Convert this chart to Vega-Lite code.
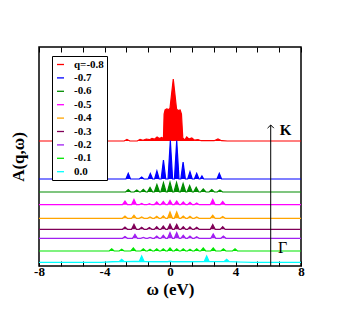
{
"$schema": "https://vega.github.io/schema/vega-lite/v6.json",
"width": 262, "height": 219,
"autosize": {"type": "none"},
"padding": {"left": 39, "top": 47, "right": 37, "bottom": 48},
"background": "white",
"config": {"view": {"stroke": "black", "strokeWidth": 1.5}, "font": "Liberation Serif"},
"datasets": {
"offsets": [{"q":"-0.8","b":125},{"q":"-0.7","b":87},{"q":"-0.6","b":74},{"q":"-0.5","b":61.3},{"q":"-0.4","b":47.7},{"q":"-0.3","b":36.7},{"q":"-0.2","b":27.7},{"q":"-0.1","b":15},{"q":"0.0","b":3.7}],
"arrow": [{"w":6.15,"v":141,"b":0}],
"spec": [
{"q":"0.0","w":-8,"v":3.7},{"q":"0.0","w":-4.2,"v":3.7},{"q":"0.0","w":-3.5,"v":4.3},{"q":"0.0","w":-3.1,"v":4.5},{"q":"0.0","w":-2.95,"v":6.7},{"q":"0.0","w":-2.8,"v":4.5},{"q":"0.0","w":-2.2,"v":4.6},{"q":"0.0","w":-1.88,"v":4.6},{"q":"0.0","w":-1.73,"v":10},{"q":"0.0","w":-1.58,"v":4.6},{"q":"0.0","w":-1.0,"v":4.4},{"q":"0.0","w":-0.15,"v":4.3},{"q":"0.0","w":0.0,"v":5},{"q":"0.0","w":0.15,"v":4.3},{"q":"0.0","w":1.0,"v":4.4},{"q":"0.0","w":2.09,"v":4.6},{"q":"0.0","w":2.24,"v":10},{"q":"0.0","w":2.39,"v":4.6},{"q":"0.0","w":3.0,"v":4.5},{"q":"0.0","w":3.31,"v":4.5},{"q":"0.0","w":3.46,"v":6.7},{"q":"0.0","w":3.61,"v":4.5},{"q":"0.0","w":4.3,"v":4.0},{"q":"0.0","w":5.0,"v":3.7},{"q":"0.0","w":8,"v":3.7},
{"q":"-0.1","w":-8,"v":15},{"q":"-0.1","w":-3.71,"v":15},{"q":"-0.1","w":-3.56,"v":17.3},{"q":"-0.1","w":-3.41,"v":15},{"q":"-0.1","w":-3.1,"v":15},{"q":"-0.1","w":-2.95,"v":16.7},{"q":"-0.1","w":-2.8,"v":15},{"q":"-0.1","w":-2.39,"v":15},{"q":"-0.1","w":-2.24,"v":18},{"q":"-0.1","w":-2.09,"v":15},{"q":"-0.1","w":-1.78,"v":15},{"q":"-0.1","w":-1.63,"v":17.3},{"q":"-0.1","w":-1.48,"v":15},{"q":"-0.1","w":-1.37,"v":15},{"q":"-0.1","w":-1.22,"v":16.7},{"q":"-0.1","w":-1.07,"v":15},{"q":"-0.1","w":-0.96,"v":15},{"q":"-0.1","w":-0.81,"v":17.3},{"q":"-0.1","w":-0.66,"v":15},{"q":"-0.1","w":-0.56,"v":15},{"q":"-0.1","w":-0.41,"v":17.3},{"q":"-0.1","w":-0.26,"v":15},{"q":"-0.1","w":-0.15,"v":15},{"q":"-0.1","w":0.0,"v":18},{"q":"-0.1","w":0.15,"v":15},{"q":"-0.1","w":0.26,"v":15},{"q":"-0.1","w":0.41,"v":17.3},{"q":"-0.1","w":0.56,"v":15},{"q":"-0.1","w":0.66,"v":15},{"q":"-0.1","w":0.81,"v":17.3},{"q":"-0.1","w":0.96,"v":15},{"q":"-0.1","w":1.07,"v":15},{"q":"-0.1","w":1.22,"v":16.7},{"q":"-0.1","w":1.37,"v":15},{"q":"-0.1","w":1.48,"v":15},{"q":"-0.1","w":1.63,"v":17.3},{"q":"-0.1","w":1.78,"v":15},{"q":"-0.1","w":1.88,"v":15},{"q":"-0.1","w":2.03,"v":18},{"q":"-0.1","w":2.18,"v":15},{"q":"-0.1","w":2.49,"v":15},{"q":"-0.1","w":2.64,"v":18},{"q":"-0.1","w":2.79,"v":15},{"q":"-0.1","w":3.11,"v":15},{"q":"-0.1","w":3.26,"v":17.3},{"q":"-0.1","w":3.41,"v":15},{"q":"-0.1","w":3.82,"v":15},{"q":"-0.1","w":3.97,"v":17.3},{"q":"-0.1","w":4.12,"v":15},{"q":"-0.1","w":8,"v":15},
{"q":"-0.2","w":-8,"v":27.7},{"q":"-0.2","w":-2.9,"v":27.7},{"q":"-0.2","w":-2.75,"v":29.4},{"q":"-0.2","w":-2.6,"v":27.7},{"q":"-0.2","w":-2.29,"v":27.7},{"q":"-0.2","w":-2.14,"v":31.7},{"q":"-0.2","w":-1.99,"v":27.7},{"q":"-0.2","w":-1.78,"v":27.7},{"q":"-0.2","w":-1.63,"v":28.7},{"q":"-0.2","w":-1.48,"v":27.7},{"q":"-0.2","w":-1.37,"v":27.7},{"q":"-0.2","w":-1.22,"v":28.7},{"q":"-0.2","w":-1.07,"v":27.7},{"q":"-0.2","w":-0.96,"v":27.7},{"q":"-0.2","w":-0.81,"v":30},{"q":"-0.2","w":-0.66,"v":27.7},{"q":"-0.2","w":-0.56,"v":27.7},{"q":"-0.2","w":-0.41,"v":30.7},{"q":"-0.2","w":-0.26,"v":27.7},{"q":"-0.2","w":-0.15,"v":27.7},{"q":"-0.2","w":0.0,"v":33.4},{"q":"-0.2","w":0.15,"v":27.7},{"q":"-0.2","w":0.26,"v":27.7},{"q":"-0.2","w":0.41,"v":33.4},{"q":"-0.2","w":0.56,"v":27.7},{"q":"-0.2","w":0.66,"v":27.7},{"q":"-0.2","w":0.81,"v":30.7},{"q":"-0.2","w":0.96,"v":27.7},{"q":"-0.2","w":1.07,"v":27.7},{"q":"-0.2","w":1.22,"v":30},{"q":"-0.2","w":1.37,"v":27.7},{"q":"-0.2","w":1.48,"v":27.7},{"q":"-0.2","w":1.63,"v":29.2},{"q":"-0.2","w":1.78,"v":27.7},{"q":"-0.2","w":2.49,"v":27.7},{"q":"-0.2","w":2.64,"v":32},{"q":"-0.2","w":2.79,"v":27.7},{"q":"-0.2","w":3.11,"v":27.7},{"q":"-0.2","w":3.26,"v":30},{"q":"-0.2","w":3.41,"v":27.7},{"q":"-0.2","w":8,"v":27.7},
{"q":"-0.3","w":-8,"v":36.7},{"q":"-0.3","w":-2.9,"v":36.7},{"q":"-0.3","w":-2.75,"v":39},{"q":"-0.3","w":-2.6,"v":36.7},{"q":"-0.3","w":-2.35,"v":36.7},{"q":"-0.3","w":-2.2,"v":41.7},{"q":"-0.3","w":-2.05,"v":36.7},{"q":"-0.3","w":-1.88,"v":36.7},{"q":"-0.3","w":-1.73,"v":38.7},{"q":"-0.3","w":-1.58,"v":36.7},{"q":"-0.3","w":-1.41,"v":36.7},{"q":"-0.3","w":-1.26,"v":38.4},{"q":"-0.3","w":-1.11,"v":36.7},{"q":"-0.3","w":-0.96,"v":36.7},{"q":"-0.3","w":-0.81,"v":39.4},{"q":"-0.3","w":-0.66,"v":36.7},{"q":"-0.3","w":-0.56,"v":36.7},{"q":"-0.3","w":-0.41,"v":39.9},{"q":"-0.3","w":-0.26,"v":36.7},{"q":"-0.3","w":-0.15,"v":36.7},{"q":"-0.3","w":0.0,"v":41.9},{"q":"-0.3","w":0.15,"v":36.7},{"q":"-0.3","w":0.26,"v":36.7},{"q":"-0.3","w":0.41,"v":41.7},{"q":"-0.3","w":0.56,"v":36.7},{"q":"-0.3","w":0.66,"v":36.7},{"q":"-0.3","w":0.81,"v":39.4},{"q":"-0.3","w":0.96,"v":36.7},{"q":"-0.3","w":1.07,"v":36.7},{"q":"-0.3","w":1.22,"v":39.2},{"q":"-0.3","w":1.37,"v":36.7},{"q":"-0.3","w":1.48,"v":36.7},{"q":"-0.3","w":1.63,"v":38.7},{"q":"-0.3","w":1.78,"v":36.7},{"q":"-0.3","w":2.46,"v":36.7},{"q":"-0.3","w":2.61,"v":41.4},{"q":"-0.3","w":2.76,"v":36.7},{"q":"-0.3","w":3.07,"v":36.7},{"q":"-0.3","w":3.22,"v":39.4},{"q":"-0.3","w":3.37,"v":36.7},{"q":"-0.3","w":8,"v":36.7},
{"q":"-0.4","w":-8,"v":47.7},{"q":"-0.4","w":-2.9,"v":47.7},{"q":"-0.4","w":-2.75,"v":50},{"q":"-0.4","w":-2.6,"v":47.7},{"q":"-0.4","w":-2.35,"v":47.7},{"q":"-0.4","w":-2.2,"v":50.7},{"q":"-0.4","w":-2.05,"v":47.7},{"q":"-0.4","w":-1.88,"v":47.7},{"q":"-0.4","w":-1.73,"v":49},{"q":"-0.4","w":-1.58,"v":47.7},{"q":"-0.4","w":-1.37,"v":47.7},{"q":"-0.4","w":-1.22,"v":49},{"q":"-0.4","w":-1.07,"v":47.7},{"q":"-0.4","w":-0.96,"v":47.7},{"q":"-0.4","w":-0.81,"v":49.7},{"q":"-0.4","w":-0.66,"v":47.7},{"q":"-0.4","w":-0.56,"v":47.7},{"q":"-0.4","w":-0.41,"v":50.2},{"q":"-0.4","w":-0.26,"v":47.7},{"q":"-0.4","w":-0.15,"v":47.7},{"q":"-0.4","w":0.0,"v":54},{"q":"-0.4","w":0.15,"v":47.7},{"q":"-0.4","w":0.26,"v":47.7},{"q":"-0.4","w":0.41,"v":54},{"q":"-0.4","w":0.56,"v":47.7},{"q":"-0.4","w":0.66,"v":47.7},{"q":"-0.4","w":0.81,"v":50},{"q":"-0.4","w":0.96,"v":47.7},{"q":"-0.4","w":1.07,"v":47.7},{"q":"-0.4","w":1.22,"v":49.7},{"q":"-0.4","w":1.37,"v":47.7},{"q":"-0.4","w":1.48,"v":47.7},{"q":"-0.4","w":1.63,"v":49},{"q":"-0.4","w":1.78,"v":47.7},{"q":"-0.4","w":2.46,"v":47.7},{"q":"-0.4","w":2.61,"v":50.7},{"q":"-0.4","w":2.76,"v":47.7},{"q":"-0.4","w":3.07,"v":47.7},{"q":"-0.4","w":3.22,"v":49.4},{"q":"-0.4","w":3.37,"v":47.7},{"q":"-0.4","w":8,"v":47.7},
{"q":"-0.5","w":-8,"v":61.3},{"q":"-0.5","w":-2.9,"v":61.3},{"q":"-0.5","w":-2.75,"v":65},{"q":"-0.5","w":-2.6,"v":61.3},{"q":"-0.5","w":-2.35,"v":61.3},{"q":"-0.5","w":-2.2,"v":66.6},{"q":"-0.5","w":-2.05,"v":61.3},{"q":"-0.5","w":-1.88,"v":61.3},{"q":"-0.5","w":-1.73,"v":62.6},{"q":"-0.5","w":-1.58,"v":61.3},{"q":"-0.5","w":-1.41,"v":61.3},{"q":"-0.5","w":-1.26,"v":62.3},{"q":"-0.5","w":-1.11,"v":61.3},{"q":"-0.5","w":-0.96,"v":61.3},{"q":"-0.5","w":-0.81,"v":64},{"q":"-0.5","w":-0.66,"v":61.3},{"q":"-0.5","w":-0.56,"v":61.3},{"q":"-0.5","w":-0.41,"v":64.6},{"q":"-0.5","w":-0.26,"v":61.3},{"q":"-0.5","w":-0.15,"v":61.3},{"q":"-0.5","w":0.0,"v":65.6},{"q":"-0.5","w":0.15,"v":61.3},{"q":"-0.5","w":0.26,"v":61.3},{"q":"-0.5","w":0.41,"v":65},{"q":"-0.5","w":0.56,"v":61.3},{"q":"-0.5","w":0.66,"v":61.3},{"q":"-0.5","w":0.81,"v":64},{"q":"-0.5","w":0.96,"v":61.3},{"q":"-0.5","w":1.07,"v":61.3},{"q":"-0.5","w":1.22,"v":63.6},{"q":"-0.5","w":1.37,"v":61.3},{"q":"-0.5","w":1.48,"v":61.3},{"q":"-0.5","w":1.63,"v":63},{"q":"-0.5","w":1.78,"v":61.3},{"q":"-0.5","w":2.46,"v":61.3},{"q":"-0.5","w":2.61,"v":66.6},{"q":"-0.5","w":2.76,"v":61.3},{"q":"-0.5","w":3.07,"v":61.3},{"q":"-0.5","w":3.22,"v":64.6},{"q":"-0.5","w":3.37,"v":61.3},{"q":"-0.5","w":8,"v":61.3},
{"q":"-0.6","w":-8,"v":74},{"q":"-0.6","w":-2.71,"v":74},{"q":"-0.6","w":-2.55,"v":76.5},{"q":"-0.6","w":-2.39,"v":74},{"q":"-0.6","w":-2.19,"v":74},{"q":"-0.6","w":-2.03,"v":76},{"q":"-0.6","w":-1.87,"v":74},{"q":"-0.6","w":-1.79,"v":74},{"q":"-0.6","w":-1.63,"v":76.7},{"q":"-0.6","w":-1.47,"v":74},{"q":"-0.6","w":-1.38,"v":74},{"q":"-0.6","w":-1.22,"v":78.5},{"q":"-0.6","w":-1.06,"v":74},{"q":"-0.6","w":-0.96,"v":74},{"q":"-0.6","w":-0.8,"v":81.5},{"q":"-0.6","w":-0.64,"v":74},{"q":"-0.6","w":-0.56,"v":74},{"q":"-0.6","w":-0.4,"v":83.3},{"q":"-0.6","w":-0.24,"v":74},{"q":"-0.6","w":-0.16,"v":74},{"q":"-0.6","w":0.0,"v":83.8},{"q":"-0.6","w":0.16,"v":74},{"q":"-0.6","w":0.24,"v":74},{"q":"-0.6","w":0.4,"v":83.5},{"q":"-0.6","w":0.56,"v":74},{"q":"-0.6","w":0.64,"v":74},{"q":"-0.6","w":0.8,"v":82.5},{"q":"-0.6","w":0.96,"v":74},{"q":"-0.6","w":1.04,"v":74},{"q":"-0.6","w":1.2,"v":80.5},{"q":"-0.6","w":1.36,"v":74},{"q":"-0.6","w":1.44,"v":74},{"q":"-0.6","w":1.6,"v":78.7},{"q":"-0.6","w":1.76,"v":74},{"q":"-0.6","w":1.87,"v":74},{"q":"-0.6","w":2.03,"v":77},{"q":"-0.6","w":2.19,"v":74},{"q":"-0.6","w":2.39,"v":74},{"q":"-0.6","w":2.55,"v":76.5},{"q":"-0.6","w":2.71,"v":74},{"q":"-0.6","w":2.89,"v":74},{"q":"-0.6","w":3.05,"v":76},{"q":"-0.6","w":3.21,"v":74},{"q":"-0.6","w":8,"v":74},
{"q":"-0.7","w":-8,"v":87},{"q":"-0.7","w":-2.69,"v":87},{"q":"-0.7","w":-2.55,"v":92.7},{"q":"-0.7","w":-2.41,"v":87},{"q":"-0.7","w":-1.87,"v":87},{"q":"-0.7","w":-1.73,"v":89},{"q":"-0.7","w":-1.59,"v":87},{"q":"-0.7","w":-1.34,"v":87},{"q":"-0.7","w":-1.2,"v":92.5},{"q":"-0.7","w":-1.06,"v":87},{"q":"-0.7","w":-0.94,"v":87},{"q":"-0.7","w":-0.8,"v":95},{"q":"-0.7","w":-0.66,"v":87},{"q":"-0.7","w":-0.54,"v":87},{"q":"-0.7","w":-0.4,"v":106},{"q":"-0.7","w":-0.26,"v":87},{"q":"-0.7","w":-0.12,"v":87},{"q":"-0.7","w":0.02,"v":125.5},{"q":"-0.7","w":0.16,"v":87},{"q":"-0.7","w":0.27,"v":87},{"q":"-0.7","w":0.41,"v":125.5},{"q":"-0.7","w":0.55,"v":87},{"q":"-0.7","w":0.66,"v":87},{"q":"-0.7","w":0.8,"v":104},{"q":"-0.7","w":0.94,"v":87},{"q":"-0.7","w":1.08,"v":87},{"q":"-0.7","w":1.22,"v":94.3},{"q":"-0.7","w":1.36,"v":87},{"q":"-0.7","w":1.49,"v":87},{"q":"-0.7","w":1.63,"v":92.7},{"q":"-0.7","w":1.77,"v":87},{"q":"-0.7","w":1.84,"v":87},{"q":"-0.7","w":1.95,"v":90},{"q":"-0.7","w":2.06,"v":87},{"q":"-0.7","w":2.87,"v":87},{"q":"-0.7","w":3.01,"v":92.7},{"q":"-0.7","w":3.15,"v":87},{"q":"-0.7","w":8,"v":87},
{"q":"-0.8","w":-8,"v":125},{"q":"-0.8","w":-2.8,"v":125},{"q":"-0.8","w":-2.63,"v":126.5},{"q":"-0.8","w":-2.45,"v":125},{"q":"-0.8","w":-2.0,"v":125},{"q":"-0.8","w":-1.83,"v":126.5},{"q":"-0.8","w":-1.65,"v":125.7},{"q":"-0.8","w":-1.45,"v":127},{"q":"-0.8","w":-1.25,"v":126.3},{"q":"-0.8","w":-1.1,"v":127.5},{"q":"-0.8","w":-0.95,"v":126.8},{"q":"-0.8","w":-0.79,"v":129},{"q":"-0.8","w":-0.65,"v":127.5},{"q":"-0.8","w":-0.51,"v":128.5},{"q":"-0.8","w":-0.4,"v":127.5},{"q":"-0.8","w":-0.36,"v":152},{"q":"-0.8","w":-0.3,"v":156},{"q":"-0.8","w":-0.2,"v":157},{"q":"-0.8","w":-0.05,"v":156.5},{"q":"-0.8","w":0.0,"v":158},{"q":"-0.8","w":0.2,"v":187},{"q":"-0.8","w":0.4,"v":157},{"q":"-0.8","w":0.48,"v":155.5},{"q":"-0.8","w":0.62,"v":156},{"q":"-0.8","w":0.7,"v":152},{"q":"-0.8","w":0.78,"v":128},{"q":"-0.8","w":0.9,"v":126},{"q":"-0.8","w":1.02,"v":129},{"q":"-0.8","w":1.15,"v":127},{"q":"-0.8","w":1.33,"v":128},{"q":"-0.8","w":1.5,"v":125.8},{"q":"-0.8","w":1.71,"v":126.5},{"q":"-0.8","w":1.9,"v":125.3},{"q":"-0.8","w":2.7,"v":125.3},{"q":"-0.8","w":2.93,"v":127},{"q":"-0.8","w":3.15,"v":125.3},{"q":"-0.8","w":3.5,"v":125},{"q":"-0.8","w":8,"v":125}
]
},
"layer": [
{
"data": {"name": "spec"},
"transform": [{"lookup": "q", "from": {"data": {"name": "offsets"}, "key": "q", "fields": ["b"]}}],
"mark": {"type": "area", "interpolate": "linear", "opacity": 1},
"encoding": {
"x": {"field": "w", "type": "quantitative", "scale": {"domain": [-8, 8], "nice": false, "zero": false},
"axis": {"orient": "bottom", "values": [-8, -6.6667, -5.3333, -4, -2.6667, -1.3333, 0, 1.3333, 2.6667, 4, 5.3333, 6.6667, 8],
"labelExpr": "abs(datum.value % 4) < 0.01 ? toString(round(datum.value)) : ''",
"tickSize": -5, "tickColor": "black", "tickWidth": 1, "domain": false, "grid": false,
"labelFont": "Liberation Serif", "labelFontWeight": "bold", "labelFontSize": 13, "labelColor": "black", "labelPadding": 4,
"labelFlush": false, "labelOverlap": false,
"title": "ω (eV)", "titleFont": "Liberation Serif", "titleFontWeight": "bold", "titleFontSize": 17, "titleColor": "black", "titlePadding": 3}},
"y": {"field": "v", "type": "quantitative", "stack": null, "scale": {"domain": [0, 219], "nice": false, "zero": false},
"axis": {"title": "A(q,ω)", "labels": false, "ticks": false, "domain": false, "grid": false,
"titleFont": "Liberation Serif", "titleFontWeight": "bold", "titleFontSize": 17, "titleColor": "black", "titlePadding": 12}},
"y2": {"field": "b"},
"color": {"field": "q", "type": "nominal",
"scale": {"domain": ["-0.8","-0.7","-0.6","-0.5","-0.4","-0.3","-0.2","-0.1","0.0"],
"range": ["#ff0000","#0000ff","#008c00","#ff00ff","#ffa500","#800058","#a020f0","#00e600","#00ffff"]},
"legend": {"orient": "none", "legendX": 13, "legendY": 9, "title": null,
"symbolType": "stroke", "symbolSize": 49, "symbolStrokeWidth": 1.3,
"labelFont": "Liberation Serif", "labelFontWeight": "bold", "labelFontSize": 11, "labelColor": "black",
"labelOffset": 8, "rowPadding": 1.4, "padding": 3, "fillColor": "white", "strokeColor": "black",
"labelExpr": "datum.value == '-0.8' ? 'q=-0.8' : datum.value"}}
}
},
{
"data": {"name": "spec"},
"mark": {"type": "line", "strokeWidth": 1.2, "interpolate": "linear"},
"encoding": {
"x": {"field": "w", "type": "quantitative",
"axis": {"orient": "top", "values": [-8, -6.6667, -5.3333, -4, -2.6667, -1.3333, 0, 1.3333, 2.6667, 4, 5.3333, 6.6667, 8],
"labels": false, "tickSize": -5, "tickColor": "black", "tickWidth": 1, "domain": false, "grid": false, "title": null}},
"y": {"field": "v", "type": "quantitative", "axis": null},
"color": {"field": "q", "type": "nominal"}
}
},
{
"data": {"name": "arrow"},
"mark": {"type": "rule", "color": "black", "strokeWidth": 1},
"encoding": {
"x": {"field": "w", "type": "quantitative", "axis": null},
"y": {"field": "v", "type": "quantitative", "axis": null},
"y2": {"field": "b"}
}
},
{
"data": {"name": "arrow"},
"mark": {"type": "point", "shape": "M -1 1 L 0 0 L 1 1", "filled": false, "stroke": "black", "strokeWidth": 1, "size": 40, "opacity": 1},
"encoding": {
"x": {"field": "w", "type": "quantitative", "axis": null},
"y": {"field": "v", "type": "quantitative", "axis": null}
}
},
{
"data": {"values": [{"t": "K", "w": 6.7, "v": 136}]},
"mark": {"type": "text", "font": "Liberation Serif", "fontWeight": "bold", "fontSize": 15, "align": "left", "baseline": "middle", "color": "black"},
"encoding": {
"x": {"field": "w", "type": "quantitative", "axis": null},
"y": {"field": "v", "type": "quantitative", "axis": null},
"text": {"field": "t"}
}
},
{
"data": {"values": [{"t": "Γ", "w": 6.6, "v": 18.5}]},
"mark": {"type": "text", "font": "Liberation Serif", "fontSize": 16, "align": "left", "baseline": "middle", "color": "black"},
"encoding": {
"x": {"field": "w", "type": "quantitative", "axis": null},
"y": {"field": "v", "type": "quantitative", "axis": null},
"text": {"field": "t"}
}
}
],
"resolve": {"axis": {"x": "independent", "y": "independent"}}
}
